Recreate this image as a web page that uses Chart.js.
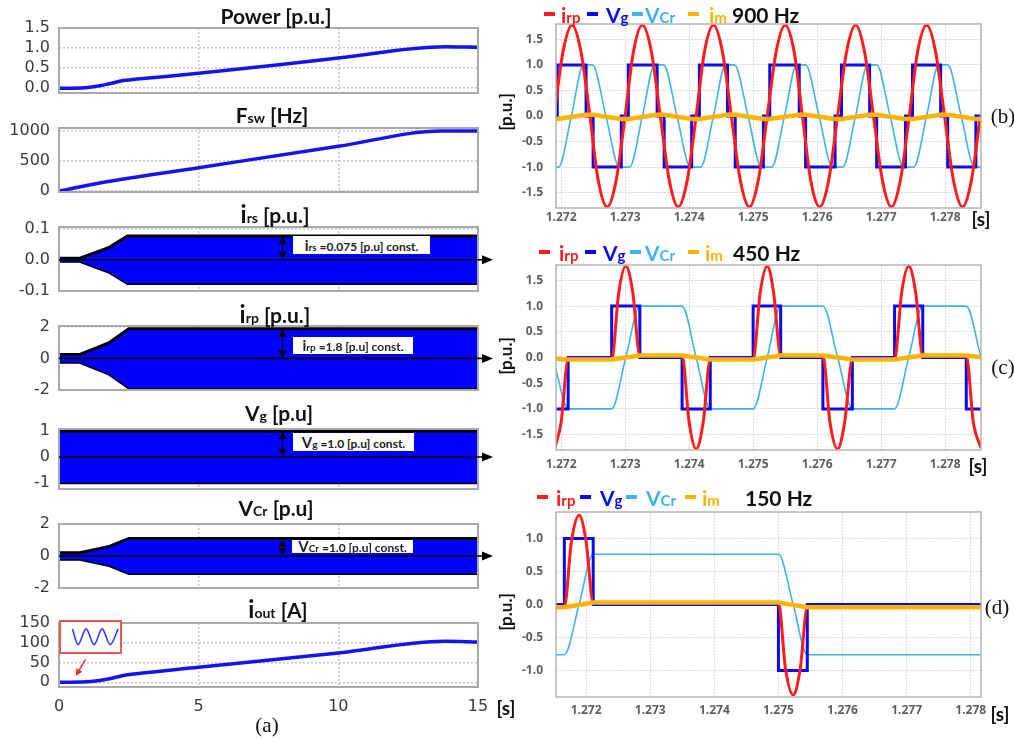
<!DOCTYPE html>
<html>
<head>
<meta charset="utf-8">
<title>LLC converter waveforms</title>
<script src="https://cdn.jsdelivr.net/npm/chart.js@4.4.1/dist/chart.umd.min.js"></script>
<style>
  body { margin: 0; background: #fff; }
  #fig { position: relative; width: 1014px; height: 742px; overflow: hidden; background: #fff; }
  #fig canvas { position: absolute; }
  .ttl { position: absolute; transform: translate(-50%, -50%); font: bold 21px Lato, sans-serif; color: #111; white-space: nowrap; z-index: 3; }
  .ttl .b { font-size: 24px; }
  .ttl .s { font-size: 14px; }
  .box { position: absolute; background: #fff; font: bold 12px Lato, sans-serif; color: #222; text-align: center; white-space: nowrap; z-index: 3; }
  .box .b { font-size: 15px; }
  .box .s { font-size: 10px; }
  .lt { position: absolute; transform: translateY(-50%); font: bold 21px Lato, sans-serif; white-space: nowrap; z-index: 3; }
  .lt .s { font-size: 15px; }
  .dash { position: absolute; width: 11px; height: 4px; z-index: 3; }
  .ser { position: absolute; transform: translate(-50%, -50%); font: 21px "Liberation Serif", serif; color: #111; z-index: 3; }
  .unit { position: absolute; transform: translate(-50%, -50%); font: bold 19px Lato, sans-serif; color: #111; z-index: 3; }
  .ylab { position: absolute; transform: translate(-50%, -50%) rotate(-90deg); font: bold 17px Lato, sans-serif; color: #111; z-index: 3; white-space: nowrap; }
  #inset { position: absolute; left: 59px; top: 620px; width: 63px; height: 34px; box-sizing: border-box; border: 2px solid #e8584f; background: #fff; z-index: 2; }
</style>
</head>
<body>
<div id="fig">
  <div class="ttl" style="left:276px;top:15px">Power [p.u.]</div>
  <div class="ttl" style="left:272px;top:114px">F<span class="s">sw</span> [Hz]</div>
  <div class="ttl" style="left:275px;top:213px"><span class="b">i</span><span class="s">rs</span> [p.u.]</div>
  <div class="ttl" style="left:275px;top:313px"><span class="b">i</span><span class="s">rp</span> [p.u.]</div>
  <div class="ttl" style="left:279px;top:412px">V<span class="s">g</span> [p.u]</div>
  <div class="ttl" style="left:276px;top:507px">V<span class="s">Cr</span> [p.u]</div>
  <div class="ttl" style="left:278px;top:608px"><span class="b">i</span><span class="s">out</span> [A]</div>

  <div class="box" style="left:293px;top:236px;width:137px;height:18px;line-height:18px"><span class="b">i</span><span class="s">rs</span> =0.075 [p.u] const.</div>
  <div class="box" style="left:293px;top:337px;width:120px;height:17px;line-height:17px"><span class="b">i</span><span class="s">rp</span> =1.8 [p.u] const.</div>
  <div class="box" style="left:293px;top:433px;width:121px;height:18px;line-height:18px"><span class="b">V</span><span class="s">g</span> =1.0 [p.u] const.</div>
  <div class="box" style="left:292px;top:540px;width:121px;height:13px;line-height:13px"><span class="b">V</span><span class="s">Cr</span> =1.0 [p.u] const.</div>

  <div id="inset"></div>

  <div class="unit" style="left:506px;top:707px">[s]</div>
  <div class="ser" style="left:267px;top:725px">(a)</div>

  <div class="ylab" style="left:505px;top:112px">[p.u.]</div>
  <div class="ylab" style="left:505px;top:356px">[p.u.]</div>
  <div class="ylab" style="left:505px;top:612px">[p.u.]</div>

  <div class="unit" style="left:981px;top:218px">[s]</div>
  <div class="unit" style="left:978px;top:465px">[s]</div>
  <div class="unit" style="left:1000px;top:713px">[s]</div>

  <div class="ser" style="left:1003px;top:116px">(b)</div>
  <div class="ser" style="left:1003px;top:367px">(c)</div>
  <div class="ser" style="left:997px;top:607px">(d)</div>
</div>

<script>
// colours
var RED = '#ff1c1c', BLUE = '#0a0af2', LBLUE = '#3db3f0', ORANGE = '#ffb300';
var LINE_BLUE = '#1414f0', FILL_BLUE = '#0000ff';

// ---------- left column (a), time axis 0..15 s ----------
var xTicksLeft = [0, 5, 10, 15];

var powerT = [0, 0.8, 1.3, 1.8, 2.3, 2.7, 5, 10, 13.8, 15];
var powerV = [0, 0.005, 0.04, 0.11, 0.19, 0.22, 0.37, 0.75, 1.03, 1.02];
var powerTicks = [0, 0.5, 1.0, 1.5];

var fswT = [0, 1.5, 5, 10, 13.7, 15];
var fswV = [0, 140, 390, 745, 1000, 1000];
var fswTicks = [0, 500, 1000];

var irsT = [0, 0.75, 1.8, 2.45, 15];
var irsAmp = [0.005, 0.005, 0.04, 0.076, 0.076];
var irsTicks = [-0.1, 0, 0.1];

var irpT = [0, 0.75, 1.8, 2.5, 15];
var irpAmp = [0.25, 0.25, 1.0, 1.88, 1.88];
var irpTicks = [-2, 0, 2];

var vgT = [0, 15];
var vgAmp = [1.0, 1.0];
var vgTicks = [-1, 0, 1];

var vcrT = [0, 0.75, 1.8, 2.5, 15];
var vcrAmp = [0.2, 0.2, 0.6, 1.1, 1.1];
var vcrTicks = [-2, 0, 2];

var ioutT = [0, 0.8, 1.3, 1.8, 2.3, 2.7, 5, 10, 13.8, 15];
var ioutV = [0, 0.5, 3, 9, 17, 21, 38, 74, 104, 102];
var ioutTicks = [0, 50, 100, 150];

var insetT = [0.3, 1, 2, 3, 4, 5, 6];
var insetV = [3.8, 0.4, 3.8, 0.4, 3.8, 0.4, 3.8];
var insetTicks = [0, 2, 4];

// ---------- right column, [time s, value p.u.] ----------
var xTicksRight = [1.272, 1.273, 1.274, 1.275, 1.276, 1.277, 1.278];

// (b) 900 Hz
var irp900 = [[1.27189,0],[1.27203,1.26],[1.27217,1.78],[1.27231,1.26],[1.27245,0],[1.27258,-1.26],[1.27272,-1.78],[1.27286,-1.26],
  [1.27300,0],[1.27313,1.26],[1.27327,1.78],[1.27341,1.26],[1.27355,0],[1.27369,-1.26],[1.27383,-1.78],[1.27397,-1.26],
  [1.27411,0],[1.27424,1.26],[1.27438,1.78],[1.27452,1.26],[1.27466,0],[1.27480,-1.26],[1.27494,-1.78],[1.27508,-1.26],
  [1.27522,0],[1.27536,1.26],[1.27550,1.78],[1.27564,1.26],[1.27577,0],[1.27590,-1.26],[1.27604,-1.78],[1.27618,-1.26],
  [1.27632,0],[1.27646,1.26],[1.27660,1.78],[1.27674,1.26],[1.27688,0],[1.27702,-1.26],[1.27716,-1.78],[1.27730,-1.26],
  [1.27744,0],[1.27757,1.26],[1.27771,1.78],[1.27785,1.26],[1.27799,0],[1.27813,-1.26],[1.27827,-1.78],[1.27841,-1.26],[1.27855,0]];
var vg900 = [[1.27190,0],[1.27194,1],[1.27239,0],[1.27250,-1],[1.27294,0],
  [1.27305,1],[1.27350,0],[1.27361,-1],[1.27404,0],
  [1.27416,1],[1.27460,0],[1.27472,-1],[1.27516,0],
  [1.27526,1],[1.27572,0],[1.27582,-1],[1.27628,0],
  [1.27638,1],[1.27682,0],[1.27693,-1],[1.27738,0],
  [1.27749,1],[1.27793,0],[1.27804,-1],[1.27848,0],[1.27860,0]];
var vcr900 = [[1.27190,-1],[1.27196,-1],[1.27216,0],[1.27235,1],[1.27249,1],[1.27270,0],[1.27291,-1],
  [1.27307,-1],[1.27327,0],[1.27346,1],[1.27360,1],[1.27381,0],[1.27402,-1],
  [1.27418,-1],[1.27438,0],[1.27457,1],[1.27471,1],[1.27492,0],[1.27513,-1],
  [1.27529,-1],[1.27549,0],[1.27568,1],[1.27582,1],[1.27603,0],[1.27624,-1],
  [1.27640,-1],[1.27660,0],[1.27679,1],[1.27693,1],[1.27714,0],[1.27735,-1],
  [1.27751,-1],[1.27771,0],[1.27790,1],[1.27804,1],[1.27825,0],[1.27846,-1],[1.27860,-1]];
var im900 = [[1.27190,-0.055],[1.27194,-0.06],[1.27239,0.025],[1.27250,0.025],[1.27294,-0.06],
  [1.27305,-0.06],[1.27350,0.025],[1.27361,0.025],[1.27404,-0.06],
  [1.27416,-0.06],[1.27460,0.025],[1.27472,0.025],[1.27516,-0.06],
  [1.27526,-0.06],[1.27572,0.025],[1.27582,0.025],[1.27628,-0.06],
  [1.27638,-0.06],[1.27682,0.025],[1.27693,0.025],[1.27738,-0.06],
  [1.27749,-0.06],[1.27793,0.025],[1.27804,0.025],[1.27848,-0.06],[1.27860,-0.06]];

// (c) 450 Hz
var irp450 = [[1.27190,-1.78],[1.27200,-1.26],[1.27211,-0.04],[1.27279,-0.04],[1.27290,1.26],[1.27301,1.78],[1.27312,1.26],[1.27323,0.04],
  [1.27389,0.04],[1.27400,-1.26],[1.27411,-1.78],[1.27422,-1.26],[1.27433,-0.04],[1.27500,-0.04],[1.27511,1.26],[1.27522,1.78],[1.27532,1.26],[1.27543,0.04],
  [1.27609,0.04],[1.27620,-1.26],[1.27632,-1.78],[1.27643,-1.26],[1.27655,-0.04],[1.27721,-0.04],[1.27732,1.26],[1.27743,1.78],[1.27754,1.26],[1.27765,0.04],
  [1.27833,0.04],[1.27844,-1.26],[1.27856,-1.76]];
var vg450 = [[1.27190,-1],[1.27211,0],[1.27279,1],[1.27323,0],[1.27389,-1],[1.27433,0],[1.27500,1],[1.27543,0],
  [1.27609,-1],[1.27655,0],[1.27721,1],[1.27765,0],[1.27833,-1],[1.27860,-1]];
var vcr450 = [[1.27190,-0.15],[1.27211,-1],[1.27279,-1],[1.27301,0],[1.27323,1],[1.27389,1],[1.27411,0],[1.27433,-1],
  [1.27500,-1],[1.27522,0],[1.27543,1],[1.27609,1],[1.27632,0],[1.27655,-1],[1.27721,-1],[1.27743,0],[1.27765,1],[1.27833,1],[1.27856,0]];
var im450 = [[1.27190,-0.02],[1.27211,-0.04],[1.27279,-0.04],[1.27323,0.04],[1.27389,0.04],[1.27433,-0.04],[1.27500,-0.04],
  [1.27543,0.04],[1.27609,0.04],[1.27655,-0.04],[1.27721,-0.04],[1.27765,0.04],[1.27833,0.04],[1.27860,0.0]];

// (d) 150 Hz
var irp150 = [[1.27150,-0.04],[1.27166,-0.04],[1.27177,0.95],[1.27189,1.35],[1.27200,0.95],[1.27211,0.03],
  [1.27500,0.03],[1.27511,-0.97],[1.27523,-1.37],[1.27534,-0.97],[1.27545,-0.04],[1.27820,-0.04]];
var vg150 = [[1.27150,0],[1.27166,1],[1.27211,0],[1.27500,-1],[1.27545,0],[1.27820,0]];
var vcr150 = [[1.27150,-0.76],[1.27166,-0.76],[1.27189,0],[1.27211,0.76],[1.27500,0.76],[1.27523,0],[1.27545,-0.76],[1.27820,-0.76]];
var im150 = [[1.27150,-0.04],[1.27166,-0.04],[1.27211,0.03],[1.27500,0.03],[1.27545,-0.04],[1.27820,-0.04]];

// ---------- helpers ----------
function addCanvas(parent, left, top, w, h) {
    var c = document.createElement('canvas');
    c.width = w; c.height = h;
    c.style.left = left + 'px'; c.style.top = top + 'px';
    c.style.width = w + 'px'; c.style.height = h + 'px';
    parent.appendChild(c);
    return c.getContext('2d');
}

function xy(ts, vs, sign) {
    return ts.map(function (t, i) { return { x: t, y: (sign || 1) * vs[i] }; });
}

function pairs(p) {
    return p.map(function (d) { return { x: d[0], y: d[1] }; });
}

function fixTicks(list) {
    return function (s) { s.ticks = list.map(function (v) { return { value: v }; }); };
}

function arrowHead(c, x, y, ang, len, half) {
    c.beginPath();
    c.moveTo(x, y);
    c.lineTo(x - len * Math.cos(ang) + half * Math.sin(ang), y - len * Math.sin(ang) - half * Math.cos(ang));
    c.lineTo(x - len * Math.cos(ang) - half * Math.sin(ang), y - len * Math.sin(ang) + half * Math.cos(ang));
    c.closePath();
    c.fill();
}

var framePlugin = {
    id: 'frame',
    afterDraw: function (chart, args, o) {
        var a = chart.chartArea, c = chart.ctx;
        c.save();
        c.strokeStyle = o.color || '#aaa';
        c.lineWidth = o.width || 1.5;
        c.strokeRect(a.left, a.top, a.right - a.left, a.bottom - a.top);
        c.restore();
    }
};

// zero line arrow, double arrow for the amplitude, red pointer of the inset
var marksPlugin = {
    id: 'marks',
    afterDraw: function (chart, args, o) {
        var c = chart.ctx, a = chart.chartArea, xs = chart.scales.x, ys = chart.scales.y;
        c.save();
        c.strokeStyle = '#000'; c.fillStyle = '#000';
        if (o.zeroArrow) {
            var y0 = ys.getPixelForValue(0), xEnd = a.right + 15;
            c.lineWidth = 1.6;
            c.beginPath(); c.moveTo(a.left, y0); c.lineTo(xEnd - 6, y0); c.stroke();
            arrowHead(c, xEnd, y0, 0, 11, 4.5);
        }
        if (o.dbl) {
            var x = xs.getPixelForValue(o.dbl.t), yA = ys.getPixelForValue(o.dbl.v), yB = ys.getPixelForValue(0);
            c.lineWidth = 1.3;
            c.beginPath(); c.moveTo(x, yA + 4); c.lineTo(x, yB - 4); c.stroke();
            arrowHead(c, x, yA + 1, -Math.PI / 2, 7, 4);
            arrowHead(c, x, yB - 1, Math.PI / 2, 7, 4);
        }
        if (o.pointer) {
            var p = o.pointer;
            var x1 = xs.getPixelForValue(p.from[0]), y1 = ys.getPixelForValue(p.from[1]);
            var x2 = xs.getPixelForValue(p.to[0]), y2 = ys.getPixelForValue(p.to[1]);
            var ang = Math.atan2(y2 - y1, x2 - x1);
            c.strokeStyle = '#e8332a'; c.fillStyle = '#e8332a'; c.lineWidth = 1.6;
            c.beginPath(); c.moveTo(x1, y1); c.lineTo(x2 - 5 * Math.cos(ang), y2 - 5 * Math.sin(ang)); c.stroke();
            arrowHead(c, x2, y2, ang, 7, 3.5);
        }
        c.restore();
    }
};

var fig = document.getElementById('fig');

// the y axis labels ask for (half label + tick padding) above and below the plot, so pad by 24
function leftChart(top, bottom, yMin, yMax, yTicks, yDec, datasets, marks, showX) {
    var padT = 24, padB = showX ? 0 : 24, xH = showX ? 34 : 0;
    var ctx = addCanvas(fig, 0, top - padT, 500, bottom - top + padT + padB + xH);
    var gridOpts = { color: '#c6c6c6', lineWidth: 1.5, drawTicks: false };
    return new Chart(ctx, {
        type: 'line',
        data: { datasets: datasets },
        options: {
            responsive: false, animation: false, events: [],
            layout: { padding: { top: padT, bottom: padB, left: 0, right: 22 } },
            elements: { point: { radius: 0 } },
            plugins: {
                legend: { display: false }, tooltip: { enabled: false },
                frame: { color: '#a9a9a9', width: 2 },
                marks: marks || {}
            },
            scales: {
                x: {
                    type: 'linear', min: 0, max: 15, bounds: 'data',
                    afterBuildTicks: fixTicks(xTicksLeft),
                    afterFit: function (s) { s.height = xH; },
                    grid: gridOpts, border: { display: false, dash: [2, 2] },
                    ticks: { display: showX, padding: 10, color: '#3a3a3a', font: { family: 'DejaVu Sans', size: 16 }, maxRotation: 0, autoSkip: false }
                },
                y: {
                    min: yMin, max: yMax, bounds: 'data',
                    afterBuildTicks: fixTicks(yTicks),
                    afterFit: function (s) { s.width = 59; },
                    grid: gridOpts, border: { display: false, dash: [2, 2] },
                    ticks: { padding: 9, color: '#3a3a3a', font: { family: 'DejaVu Sans', size: 16 }, autoSkip: false,
                        callback: function (v) { return v.toFixed(yDec); } }
                }
            }
        },
        plugins: [framePlugin, marksPlugin]
    });
}

function curve(ts, vs) {
    return [{ data: xy(ts, vs), borderColor: LINE_BLUE, borderWidth: 3.5, cubicInterpolationMode: 'monotone', fill: false }];
}

function envelope(ts, amps) {
    return [
        { data: xy(ts, amps), borderColor: '#000', borderWidth: 3, backgroundColor: FILL_BLUE, fill: '+1' },
        { data: xy(ts, amps, -1), borderColor: '#000', borderWidth: 3, fill: false }
    ];
}

leftChart(28, 93, -0.12, 1.5, powerTicks, 1, curve(powerT, powerV));
leftChart(128, 192, -15, 1050, fswTicks, 0, curve(fswT, fswV));
leftChart(227, 291, -0.1, 0.105, irsTicks, 1, envelope(irsT, irsAmp),
    { zeroArrow: true, dbl: { t: 8, v: irsAmp[irsAmp.length - 1] } });
leftChart(326, 390, -2, 2.05, irpTicks, 0, envelope(irpT, irpAmp),
    { zeroArrow: true, dbl: { t: 8, v: irpAmp[irpAmp.length - 1] } });
leftChart(429, 489, -1.24, 1.08, vgTicks, 0, envelope(vgT, vgAmp),
    { zeroArrow: true, dbl: { t: 8, v: vgAmp[vgAmp.length - 1] } });
leftChart(524, 588, -2, 2, vcrTicks, 0, envelope(vcrT, vcrAmp),
    { zeroArrow: true, dbl: { t: 8, v: vcrAmp[vcrAmp.length - 1] } });
leftChart(623, 687, -12, 150, ioutTicks, 0, curve(ioutT, ioutV),
    { pointer: { from: [0.95, 58], to: [0.6, 16] } }, true);

// inset of the output current ripple
(function () {
    var ctx = addCanvas(document.getElementById('inset'), 0, 0, 59, 30);
    new Chart(ctx, {
        type: 'line',
        data: { datasets: [{ data: xy(insetT, insetV), borderColor: '#2f3ff0', borderWidth: 1.6, cubicInterpolationMode: 'monotone' }] },
        options: {
            responsive: false, animation: false, events: [],
            layout: { padding: { top: 3, bottom: 3, left: 0, right: 1 } },
            elements: { point: { radius: 0 } },
            plugins: { legend: { display: false }, tooltip: { enabled: false } },
            scales: {
                x: { type: 'linear', min: 0, max: 6.1, display: false },
                y: { min: -0.2, max: 4.3, bounds: 'data', afterBuildTicks: fixTicks(insetTicks),
                     afterFit: function (s) { s.width = 9; },
                     grid: { display: false }, border: { display: false },
                     ticks: { padding: 1, color: '#888', font: { family: 'DejaVu Sans', size: 6 } } }
            }
        }
    });
})();

// ---------- right column ----------
function rightChart(top, bottom, xMin, xMax, yLim, yTicks, labelPad, s) {
    var padT = 24, xH = 28;
    var ctx = addCanvas(fig, 520, top - padT, 475, bottom - top + padT + xH);
    var gridOpts = { color: '#dcdcdc', lineWidth: 1, drawTicks: false };
    return new Chart(ctx, {
        type: 'line',
        data: {
            datasets: [
                { data: pairs(s.im), borderColor: ORANGE, borderWidth: 4.5 },
                { data: pairs(s.irp), borderColor: RED, borderWidth: 3, cubicInterpolationMode: 'monotone' },
                { data: pairs(s.vg), borderColor: BLUE, borderWidth: 3, stepped: true },
                { data: pairs(s.vcr), borderColor: LBLUE, borderWidth: 1.6, cubicInterpolationMode: 'monotone' }
            ]
        },
        options: {
            responsive: false, animation: false, events: [],
            layout: { padding: { top: padT, bottom: 0, left: 0, right: 14 } },
            elements: { point: { radius: 0 } },
            plugins: { legend: { display: false }, tooltip: { enabled: false }, frame: { color: '#b4b4b4', width: 1.5 } },
            scales: {
                x: {
                    type: 'linear', min: xMin, max: xMax, bounds: 'data',
                    afterBuildTicks: fixTicks(xTicksRight),
                    afterFit: function (sc) { sc.height = xH; },
                    grid: gridOpts, border: { display: false, dash: [2, 1] },
                    ticks: { padding: labelPad, color: '#5e5e5e', font: { family: 'Open Sans', size: 12, weight: 'bold' }, maxRotation: 0, autoSkip: false,
                        callback: function (v) { return v.toFixed(3); } }
                },
                y: {
                    min: -yLim, max: yLim, bounds: 'data',
                    afterBuildTicks: fixTicks(yTicks),
                    afterFit: function (sc) { sc.width = 36; },
                    grid: gridOpts, border: { display: false, dash: [2, 1] },
                    ticks: { padding: 13, color: '#5e5e5e', font: { family: 'Open Sans', size: 12, weight: 'bold' }, autoSkip: false,
                        callback: function (v) { return v.toFixed(1); } }
                }
            }
        },
        plugins: [framePlugin]
    });
}

var yTicksWide = [-1.5, -1, -0.5, 0, 0.5, 1, 1.5];
var yTicksNarrow = [-1, -0.5, 0, 0.5, 1];

rightChart(24, 208, 1.27192, 1.27856, 1.8, yTicksWide, 2, { irp: irp900, vg: vg900, vcr: vcr900, im: im900 });
rightChart(265, 450, 1.27192, 1.27856, 1.8, yTicksWide, 7, { irp: irp450, vg: vg450, vcr: vcr450, im: im450 });
rightChart(512, 697, 1.27153, 1.27816, 1.4, yTicksNarrow, 6, { irp: irp150, vg: vg150, vcr: vcr150, im: im150 });

// legends of the right panels
function legend(y, dashX, textX, hzX, hz) {
    var names = [['i', 'rp', RED], ['V', 'g', BLUE], ['V', 'Cr', LBLUE], ['i', 'm', ORANGE]];
    names.forEach(function (n, i) {
        var d = document.createElement('div');
        d.className = 'dash';
        d.style.left = dashX[i] + 'px'; d.style.top = (y - 2) + 'px'; d.style.background = n[2];
        fig.appendChild(d);
        var t = document.createElement('div');
        t.className = 'lt';
        t.style.left = textX[i] + 'px'; t.style.top = y + 'px'; t.style.color = n[2];
        t.innerHTML = n[0] + '<span class="s">' + n[1] + '</span>';
        fig.appendChild(t);
    });
    var h = document.createElement('div');
    h.className = 'lt';
    h.style.left = hzX + 'px'; h.style.top = y + 'px'; h.style.color = '#111';
    h.textContent = hz;
    fig.appendChild(h);
}

legend(14, [544, 587, 632, 688], [561, 606, 645, 709], 732, '900 Hz');
legend(252, [539, 585, 630, 688], [559, 603, 645, 705], 733, '450 Hz');
legend(497, [537, 580, 626, 685], [556, 600, 646, 702], 745, '150 Hz');
</script>
</body>
</html>
